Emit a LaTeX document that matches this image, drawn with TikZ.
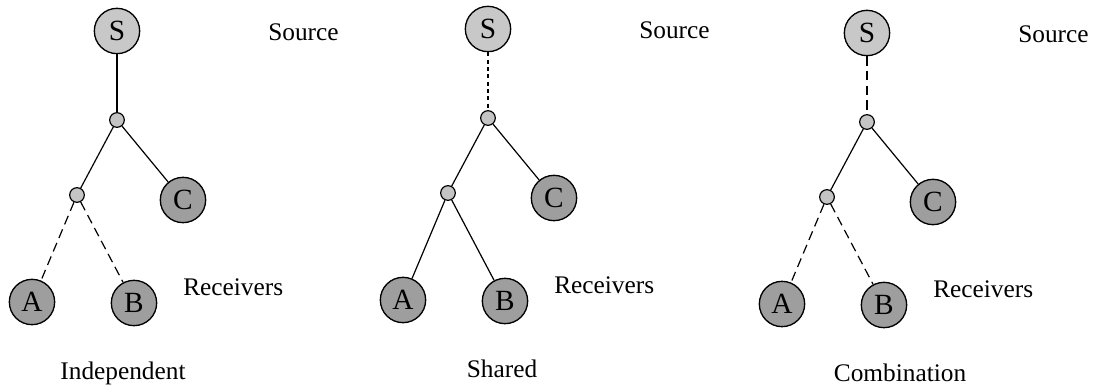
\documentclass[tikz,border=0pt]{standalone}
\usepackage{fontspec}
\setmainfont{Liberation Serif}
\usetikzlibrary{positioning}
\definecolor{SrcGray}{HTML}{C8C8C8}
\definecolor{RcvGray}{HTML}{9E9E9E}
\definecolor{JnGray}{HTML}{C4C4C4}

\begin{document}
\begin{tikzpicture}[x=0.75pt,y=-0.75pt,font=\fontsize{19}{22}\selectfont,
  src/.style={circle,draw=black,line width=1pt,fill=SrcGray,minimum size=34pt,inner sep=0pt,font=\fontsize{22}{24}\selectfont},
  rcv/.style={src,fill=RcvGray},
  jn/.style={circle,draw=black,line width=0.9pt,fill=JnGray,minimum size=11pt,inner sep=0pt},
  lnk/.style={line width=0.9pt},
  dsh/.style={lnk,dash pattern=on 7pt off 4pt},
  dshf/.style={lnk,dash pattern=on 3pt off 2.5pt},
  lbl/.style={anchor=west,inner sep=0pt},
  ttl/.style={anchor=base,inner sep=0pt}]
  \useasboundingbox (0,0) rectangle (1093,389);
  \foreach \i/\ox/\oy/\up/\dn/\tx/\title in {1/0/0/lnk/dsh/123/Independent,2/371/-2/dshf/lnk/131/Shared,3/750/2/dsh/dsh/150/Combination}{
    \begin{scope}[shift={(\ox,\oy)}]
      \node[src] (s\i) at (117,31) {S};
      \node[jn] (ja\i) at (117,120) {};
      \node[jn] (jb\i) at (77,195) {};
      \node[rcv] (c\i) at (183,200) {C};
      \node[rcv] (a\i) at (32,302) {A};
      \node[rcv] (b\i) at (134,303) {B};
      \node[lbl] (src\i) at (268,32) {Source};
      \node[lbl] (rcv\i) at (183,287) {Receivers};
      \node[ttl] (t\i) at (\tx,379) {\title};
      \draw[\up] (s\i) -- (ja\i);
      \draw[lnk] (ja\i) -- (jb\i);
      \draw[lnk] (ja\i) -- (c\i);
      \draw[\dn] (jb\i) -- (a\i);
      \draw[\dn] (jb\i) -- (b\i);
    \end{scope}
  }
\end{tikzpicture}
\end{document}
